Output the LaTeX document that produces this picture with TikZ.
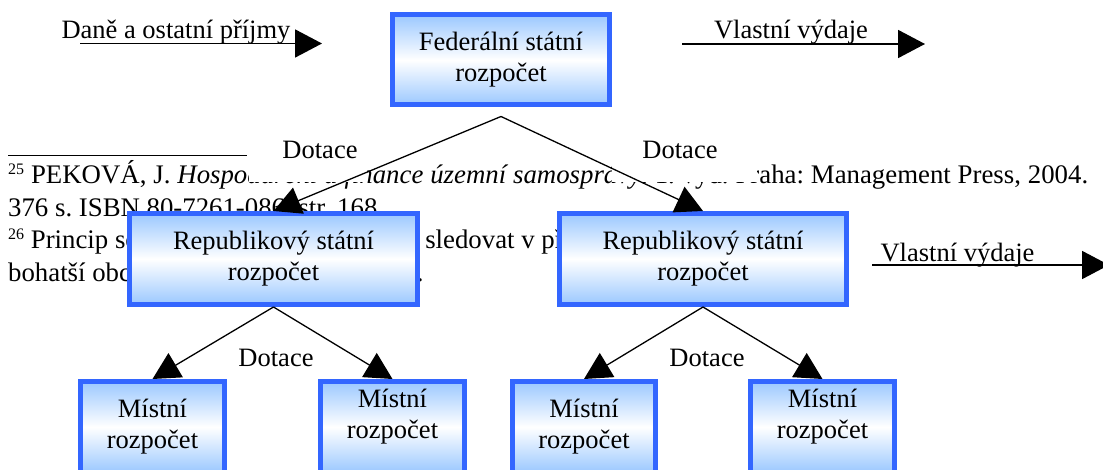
\documentclass[tikz,border=0pt]{standalone}
\usepackage{fontspec}
\setmainfont{Liberation Serif}
\usetikzlibrary{arrows.meta}

\definecolor{boxblue}{RGB}{51,102,255}
\definecolor{fillblue}{RGB}{155,200,255}

\newcommand\bodysize{\fontsize{26.5pt}{31pt}\selectfont}
\newcommand\notesize{\fontsize{26.8pt}{32.5pt}\selectfont}
\newcommand\fnmark[1]{\raisebox{9pt}{\fontsize{16pt}{16pt}\selectfont #1}}
\frenchspacing

\begin{document}
\begin{tikzpicture}[x=1pt,y=-1pt,
  budget/.style={draw=boxblue, line width=5pt, top color=fillblue,
    bottom color=fillblue, middle color=white, inner sep=0pt,
    align=center, font=\bodysize},
  caption/.style={inner sep=0pt, font=\bodysize, align=center},
  note/.style={inner sep=0pt, anchor=base west, font=\notesize},
  grant/.style={line width=1.3pt, -{Triangle[length=27pt,width=28pt]}},
  flow/.style={line width=1.8pt, -{Triangle[length=27pt,width=28pt]}},
]
\useasboundingbox (0,0) rectangle (1103,470);
\clip (0,0) rectangle (1103,470);

% footnotes of the page underneath
\coordinate (ruleA) at (8,155.5);
\coordinate (ruleB) at (247,155.5);
\draw[line width=1pt] (ruleA) -- (ruleB);
\node[note] (fn1) at (8,184) {\makebox[1080pt][s]{\fnmark{25} PEKOVÁ, J. \textit{Hospodaření a finance územní samosprávy}. 1. vyd. Praha: Management Press, 2004.}};
\node[note] (fn2) at (8,216.5) {376 s. ISBN 80-7261-086. str. 168.};
\node[note] (fn3) at (8,249) {\fnmark{26} Princip solidarity mezi obcemi lze\hspace{20pt} sledovat v přerozdělování};
\node[note] (fn4) at (8,281.5) {bohatší obce přispívají na chudší obce.};

% white label areas of the upper grants
\fill[white] (249,137) rectangle (367,182.5);
\fill[white] (612,137) rectangle (757,182.5);

% budgets
\node[budget, minimum width=217pt, minimum height=90pt] (fed) at (501,60) {Federální státní\\rozpočet};
\node[budget, minimum width=288pt, minimum height=91pt] (repL) at (273.5,259) {Republikový státní\\rozpočet};
\node[budget, minimum width=287pt, minimum height=91pt] (repR) at (703,259) {Republikový státní\\rozpočet};
\node[budget, minimum width=144pt, minimum height=91pt] (m1) at (152.5,427) {};
\node[budget, minimum width=144pt, minimum height=91pt] (m2) at (392.5,427) {};
\node[budget, minimum width=143pt, minimum height=91pt] (m3) at (584,427) {};
\node[budget, minimum width=144pt, minimum height=91pt] (m4) at (822.5,427) {};
\node[caption] (m1t) at (152.5,427) {Místní\\rozpočet};
\node[caption] (m2t) at (392.5,417) {Místní\\rozpočet};
\node[caption] (m3t) at (584,427) {Místní\\rozpočet};
\node[caption] (m4t) at (822.5,417) {Místní\\rozpočet};

% revenues and expenditures
\coordinate (inA) at (80,43.5);
\coordinate (inB) at (322,43.5);
\node[caption, anchor=base] (inlbl) at (176,39) {Daně a ostatní příjmy};
\draw[flow] (inA) -- (inB);

\coordinate (outA) at (682,44);
\coordinate (outB) at (925,44);
\node[caption, anchor=base] (outlbl) at (791,39) {Vlastní výdaje};
\draw[flow] (outA) -- (outB);

\coordinate (out2A) at (872,265);
\coordinate (out2B) at (1109,265);
\node[caption, anchor=base] (out2lbl) at (957.5,262) {Vlastní výdaje};
\draw[flow] (out2A) -- (out2B);

% grants
\coordinate (fork) at ([yshift=-9pt]fed.south);
\node[caption, anchor=base] (dL) at (320,159) {Dotace};
\node[caption, anchor=base] (dR) at (680,159) {Dotace};
\draw[grant] (fork) -- (repL.north);
\draw[grant] (fork) -- (repR.north);

\node[caption, anchor=base] (dL2) at (276,366) {Dotace};
\node[caption, anchor=base] (dR2) at (707,366) {Dotace};
\draw[grant] (repL.south) -- (m1.north);
\draw[grant] (repL.south) -- (m2.north);
\draw[grant] (repR.south) -- (m3.north);
\draw[grant] (repR.south) -- (m4.north);
\end{tikzpicture}
\end{document}
